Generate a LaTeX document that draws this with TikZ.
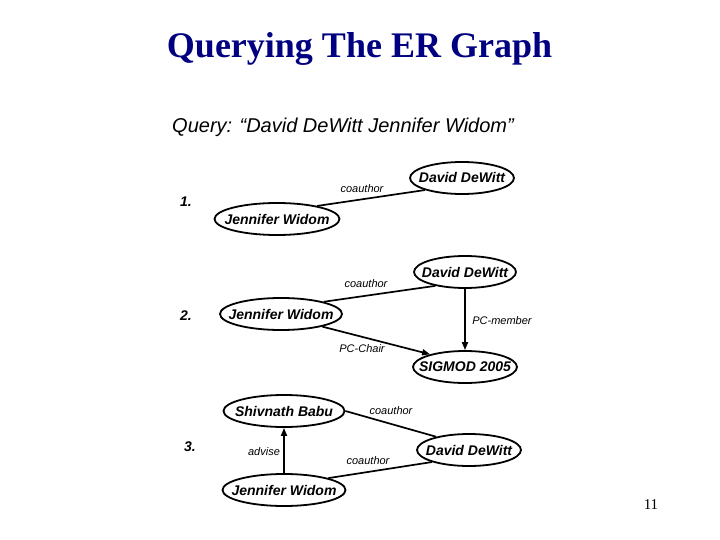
\documentclass[tikz,border=0pt]{standalone}
\usepackage{fontspec}
\setmainfont{Liberation Serif}
\setsansfont{Liberation Sans}
\usetikzlibrary{arrows.meta,shapes.geometric}
\definecolor{titleblue}{HTML}{000080}
\tikzset{>={Triangle[length=8pt,width=6pt]},
  every node/.style={font=\sffamily},
  entity/.style={ellipse,draw,line width=1.8pt,inner sep=0pt,
    minimum height=32pt,minimum width=#1,
    font=\sffamily\bfseries\itshape\fontsize{14}{16}\selectfont},
  entity/.default=104pt,
  rel/.style={font=\sffamily\itshape\fontsize{11}{13}\selectfont,inner sep=1pt},
  link/.style={draw,line width=1.7pt},
  qnum/.style={font=\sffamily\bfseries\itshape\fontsize{14}{16}\selectfont}}
\newcommand{\ername}[1]{\makebox[0pt]{#1}}

\begin{document}
\begin{tikzpicture}[x=1pt,y=-1pt]
\fill[white] (0,0) rectangle (720,540);
\useasboundingbox (0,0) rectangle (720,540);
\node[anchor=base,text=titleblue,font=\rmfamily\bfseries\fontsize{36}{40}\selectfont] (title) at (359.5,58) {Querying The ER Graph};
\node[anchor=base west,inner sep=0pt,font=\sffamily\itshape\fontsize{20}{24}\selectfont] (query) at (172,133) {Query: “David DeWitt Jennifer Widom”};

% 1. plain coauthor link
\node[qnum] (n1) at (186,202) {1.};
\node[entity] (dd1) at (462,178) {\ername{David DeWitt}};
\node[entity=125pt] (jw1) at (277,219) {\ername{Jennifer Widom}};
\draw[link] (jw1.18) -- (dd1.198);
\node[rel] (co1) at (362,189) {coauthor};

% 2. through the conference
\node[qnum] (n2) at (186,316) {2.};
\node[entity=102pt] (dd2) at (465,272) {\ername{David DeWitt}};
\node[entity=122pt] (jw2) at (281,314) {\ername{Jennifer Widom}};
\node[entity] (sg) at (465,367) {\ername{SIGMOD 2005}};
\draw[link] (jw2.16) -- (dd2.205);
\draw[link,->] (dd2) -- (sg);
\draw[link,->] (jw2.-17) -- (sg.160);
\node[rel] (co2) at (366,284) {coauthor};
\node[rel] (pcm) at (502,321) {PC-member};
\node[rel] (pcc) at (362,349) {PC-Chair};

% 3. through the student
\node[qnum] (n3) at (190,447) {3.};
\node[entity=121pt] (sb) at (284,411) {\ername{Shivnath Babu}};
\node[entity] (dd3) at (469,450) {\ername{David DeWitt}};
\node[entity=123pt] (jw3) at (284,490) {\ername{Jennifer Widom}};
\draw[link] (sb.0) -- (dd3.158);
\draw[link] (jw3.15) -- (dd3.198);
\draw[link,->] (jw3) -- (sb);
\node[rel] (co3) at (391,411) {coauthor};
\node[rel] (co4) at (368,461) {coauthor};
\node[rel] (adv) at (264,452) {advise};

\node[font=\rmfamily\fontsize{15}{17}\selectfont] (page) at (651,505) {11};
\end{tikzpicture}
\end{document}
